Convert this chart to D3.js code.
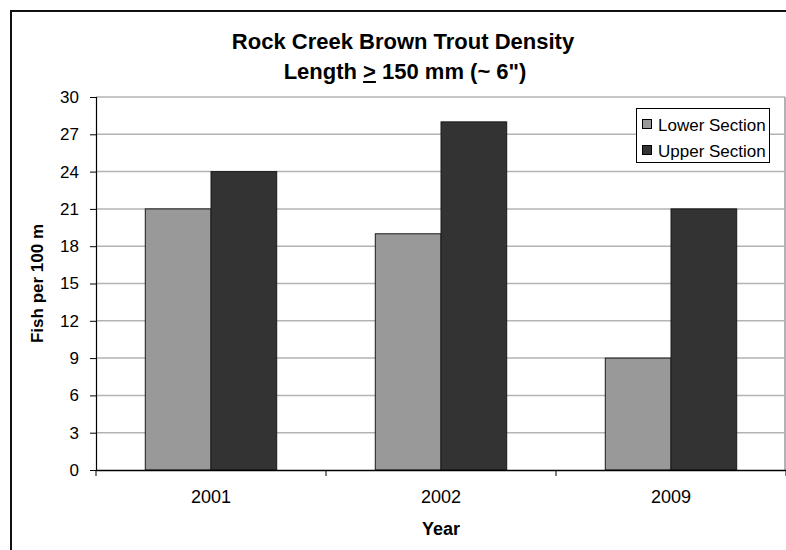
<!DOCTYPE html>
<html><head><meta charset="utf-8">
<script src="https://cdn.jsdelivr.net/npm/d3@7"></script>
<style>body{margin:0;background:#fff}svg{display:block}text{font-family:"Liberation Sans",Arial,sans-serif}</style>
</head><body><svg id="c" width="786" height="550"></svg>
<script>
const categories = ["2001", "2002", "2009"];
const seriesNames = ["Lower Section", "Upper Section"];
const lowerValues = [21, 19, 9];
const upperValues = [24, 28, 21];
const yTicks = [0, 3, 6, 9, 12, 15, 18, 21, 24, 27, 30];
const colors = ["#999999", "#333333"];

const svg = d3.select("#c");
const L = 96, R = 785, T = 97, B = 470;

svg.append("path").attr("d", "M11,550 L11,11 L786,11").attr("fill", "none").attr("stroke", "#111").attr("stroke-width", 2);

const x = d3.scaleBand().domain(categories).range([L, 786]).padding(0);
const xs = d3.scaleBand().domain(seriesNames).range([0, x.bandwidth()]).paddingInner(0).paddingOuter(0.75);
const y = d3.scaleLinear().domain([0, 30]).range([B, T]);

svg.append("g").selectAll("line").data(yTicks.filter(d => d > 0)).join("line")
  .attr("x1", L).attr("x2", R).attr("y1", d => y(d)).attr("y2", d => y(d))
  .attr("stroke", "#b3b3b3").attr("stroke-width", 1.5);
svg.append("line").attr("x1", R).attr("x2", R).attr("y1", T).attr("y2", B).attr("stroke", "#b3b3b3").attr("stroke-width", 2);

const data = categories.map((c, i) => ({c, vals: [lowerValues[i], upperValues[i]]}));
const g = svg.append("g");
data.forEach(d => {
  d.vals.forEach((v, j) => {
    g.append("rect")
      .attr("x", x(d.c) + xs(seriesNames[j]))
      .attr("y", y(v))
      .attr("width", xs.bandwidth())
      .attr("height", y(0) - y(v))
      .attr("fill", colors[j]).attr("stroke", "#1a1a1a").attr("stroke-width", 1);
  });
});

const yAxis = d3.axisLeft(y).tickValues(yTicks).tickSize(6).tickPadding(11);
const ya = svg.append("g").attr("transform", `translate(${L},0)`).call(yAxis);
ya.select(".domain").attr("stroke", "#000").attr("stroke-width", 1.2);
ya.selectAll(".tick line").attr("stroke", "#000");
ya.selectAll(".tick text").attr("font-size", 17).attr("fill", "#000").attr("font-family", "Liberation Sans, Arial, sans-serif");

const xAxis = d3.axisBottom(x).tickSize(0).tickPadding(20);
const xa = svg.append("g").attr("transform", `translate(0,${B})`).call(xAxis);
xa.select(".domain").attr("stroke", "#000").attr("stroke-width", 1.5);
xa.selectAll(".tick text").attr("font-size", 18).attr("fill", "#000").attr("font-family", "Liberation Sans, Arial, sans-serif");
const sepTicks = categories.map(c => x(c)).concat([x(categories[categories.length - 1]) + x.bandwidth()]);
svg.append("g").selectAll("line").data(sepTicks).join("line")
  .attr("x1", d => d).attr("x2", d => d).attr("y1", B).attr("y2", B + 6)
  .attr("stroke", "#000").attr("stroke-width", 1);

svg.append("text").attr("x", 403).attr("y", 49).attr("text-anchor", "middle")
  .attr("font-size", 22).attr("font-weight", "bold")
  .text("Rock Creek Brown Trout Density");
const line2 = "Length > 150 mm (~ 6\")";
const t2 = svg.append("text").attr("x", 405).attr("y", 79).attr("text-anchor", "middle")
  .attr("font-size", 22).attr("font-weight", "bold")
  .text(line2);
const idx = line2.indexOf(">");
const node = t2.node();
const s = node.getStartPositionOfChar(idx), e = node.getEndPositionOfChar(idx);
svg.append("line").attr("x1", s.x).attr("x2", e.x).attr("y1", 82).attr("y2", 82).attr("stroke", "#000").attr("stroke-width", 2);

svg.append("text").attr("transform", `translate(43,${(T + B) / 2}) rotate(-90)`).attr("text-anchor", "middle")
  .attr("font-size", 17).attr("font-weight", "bold").text("Fish per 100 m");
svg.append("text").attr("x", 441).attr("y", 535).attr("text-anchor", "middle")
  .attr("font-size", 18).attr("font-weight", "bold").text("Year");

const lg = svg.append("g");
lg.append("rect").attr("x", 636.5).attr("y", 108.5).attr("width", 133).attr("height", 54).attr("fill", "#fff").attr("stroke", "#000").attr("stroke-width", 1);
seriesNames.forEach((s, i) => {
  lg.append("rect").attr("x", 642.5).attr("y", 119.5 + i * 26).attr("width", 9).attr("height", 9)
    .attr("fill", colors[i]).attr("stroke", "#000").attr("stroke-width", 1);
  lg.append("text").attr("x", 658).attr("y", 130.5 + i * 26).attr("font-size", 17).text(s);
});
</script></body></html>
